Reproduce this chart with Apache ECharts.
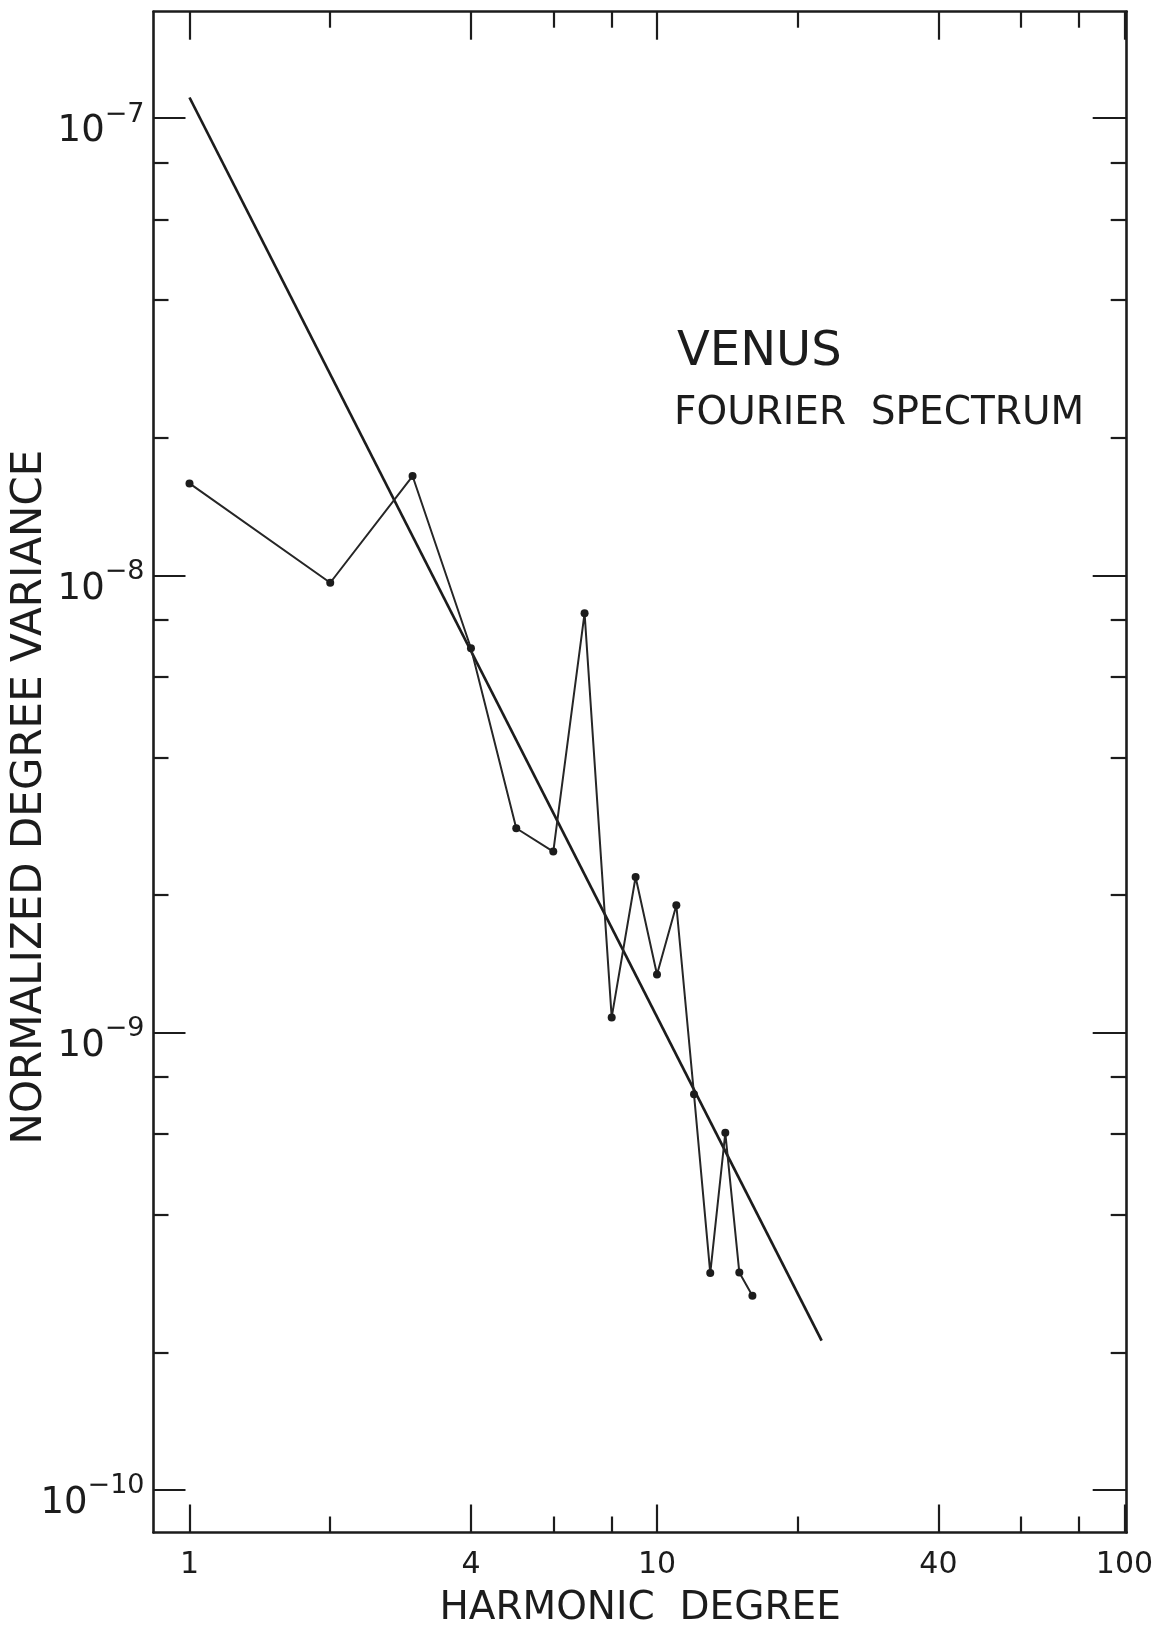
<!DOCTYPE html>
<html>
<head>
<meta charset="utf-8">
<script src="https://cdn.jsdelivr.net/npm/echarts@6/dist/echarts.min.js"></script>
<style>
  html, body { margin: 0; padding: 0; background: #ffffff; }
  #chart { width: 1155px; height: 1629px; }
</style>
</head>
<body>
<div id="chart"></div>
<script>
// Venus: normalized degree variance of the topography Fourier spectrum
const harmonicDegree = [1, 2, 3, 4, 5, 6, 7, 8, 9, 10, 11, 12, 13, 14, 15, 16];
const degreeVariance = [
  1.59e-8, 9.64e-9, 1.65e-8, 6.93e-9, 2.80e-9, 2.49e-9, 8.27e-9, 1.08e-9,
  2.19e-9, 1.34e-9, 1.90e-9, 7.33e-10, 2.98e-10, 6.04e-10, 2.99e-10, 2.66e-10
];

// Straight-line (power law) fit through the spectrum
const fitDegree = [1, 22.5];
const fitVariance = [1.11e-7, 2.12e-10];

// Tick marks and labels
const xMajorTicks = [1, 4, 10, 40, 100];
const xMinorTicks = [2, 6, 8, 20, 60, 80];
const yMajorTicks = [1e-7, 1e-8, 1e-9, 1e-10];
const yMinorTicks = [
  8e-8, 6e-8, 4e-8, 2e-8,
  8e-9, 6e-9, 4e-9, 2e-9,
  8e-10, 6e-10, 4e-10, 2e-10
];

// Axis ranges
const xRange = [0.8375, 101.1];
const yRange = [8.07e-11, 1.71e-7];

const INK = '#1c1c1c';
const FONT = 'DejaVu Sans';

const chart = echarts.init(document.getElementById('chart'), null, { renderer: 'canvas' });

function makeX(position, ticks, len, showLine, showLabel, name) {
  return {
    type: 'log',
    logBase: 10,
    position: position,
    min: xRange[0],
    max: xRange[1],
    gridIndex: 0,
    name: name || '',
    nameLocation: 'middle',
    nameGap: 57,
    nameTextStyle: { color: INK, fontFamily: FONT, fontSize: 39 },
    axisLine: { show: showLine, onZero: false, lineStyle: { color: INK, width: 2.6 } },
    axisTick: { show: true, inside: true, length: len, customValues: ticks,
                lineStyle: { color: INK, width: 2.2 } },
    axisLabel: showLabel ? {
      show: true, customValues: ticks, margin: 18,
      color: INK, fontFamily: FONT, fontSize: 30,
      formatter: v => String(Math.round(v))
    } : { show: false },
    splitLine: { show: false },
    minorTick: { show: false },
    minorSplitLine: { show: false }
  };
}

function makeY(position, ticks, len, showLine, showLabel) {
  return {
    type: 'log',
    logBase: 10,
    position: position,
    min: yRange[0],
    max: yRange[1],
    gridIndex: 0,
    axisLine: { show: showLine, onZero: false, lineStyle: { color: INK, width: 2.6 } },
    axisTick: { show: true, inside: true, length: len, customValues: ticks,
                lineStyle: { color: INK, width: 2.2 } },
    axisLabel: showLabel ? {
      show: true, customValues: ticks, margin: 9,
      color: INK, fontFamily: FONT,
      formatter: v => '{b|10}{s|\u2212' + Math.abs(Math.round(Math.log10(v))) + '}',
      rich: {
        // base "10" sits a little below the tick, exponent raised beside it
        b: { fontFamily: FONT, fontSize: 37, color: INK, lineHeight: 64,
             verticalAlign: 'bottom' },
        s: { fontFamily: FONT, fontSize: 27, color: INK,
             verticalAlign: 'bottom', padding: [0, 0, 22, 0] }
      }
    } : { show: false },
    splitLine: { show: false },
    minorTick: { show: false },
    minorSplitLine: { show: false }
  };
}

const option = {
  backgroundColor: '#ffffff',
  animation: false,
  grid: {
    left: 153.5, right: 28.3, top: 11.7, bottom: 96.5,
    containLabel: false, outerBoundsMode: 'none'
  },
  xAxis: [
    makeX('bottom', xMajorTicks, 28, true, true, 'HARMONIC  DEGREE'),
    makeX('bottom', xMinorTicks, 16, false, false),
    makeX('top', xMajorTicks, 28, true, false),
    makeX('top', xMinorTicks, 16, false, false)
  ],
  yAxis: [
    makeY('left', yMajorTicks, 32, true, true),
    makeY('left', yMinorTicks, 15, false, false),
    makeY('right', yMajorTicks, 34, true, false),
    makeY('right', yMinorTicks, 16, false, false)
  ],
  graphic: [
    {
      type: 'text', x: 30, y: 797, rotation: Math.PI / 2,
      style: { text: 'NORMALIZED DEGREE VARIANCE', fill: INK,
               font: '42px "DejaVu Sans"', textAlign: 'center', textVerticalAlign: 'middle' }
    },
    {
      type: 'text', x: 677, y: 353,
      style: { text: 'VENUS', fill: INK,
               font: '48px "DejaVu Sans"', textAlign: 'left', textVerticalAlign: 'middle' }
    },
    {
      type: 'text', x: 674, y: 414,
      style: { text: 'FOURIER  SPECTRUM', fill: INK,
               font: '39px "DejaVu Sans"', textAlign: 'left', textVerticalAlign: 'middle' }
    }
  ],
  series: [
    {
      name: 'fit',
      type: 'line',
      xAxisIndex: 0, yAxisIndex: 0,
      data: fitDegree.map((d, i) => [d, fitVariance[i]]),
      symbol: 'none',
      lineStyle: { color: INK, width: 2.7 },
      z: 3
    },
    {
      name: 'spectrum',
      type: 'line',
      xAxisIndex: 0, yAxisIndex: 0,
      data: harmonicDegree.map((d, i) => [d, degreeVariance[i]]),
      symbol: 'circle',
      symbolSize: 8,
      itemStyle: { color: INK },
      lineStyle: { color: '#262626', width: 2 },
      z: 4
    }
  ]
};

chart.setOption(option);
</script>
</body>
</html>
